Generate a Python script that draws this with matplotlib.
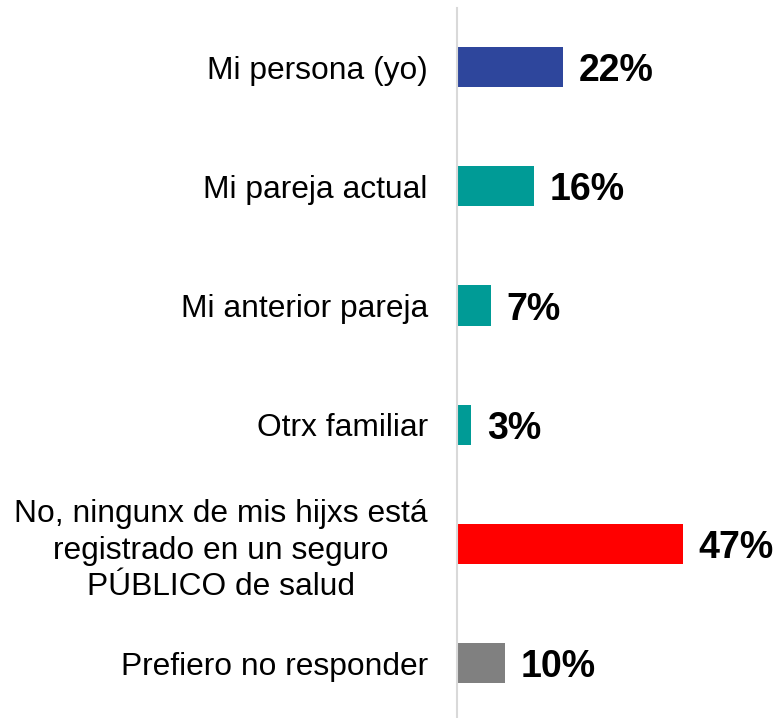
import matplotlib
matplotlib.use("Agg")
import matplotlib.pyplot as plt

plt.rcParams['font.family'] = ['Liberation Sans', 'DejaVu Sans']

categories = [
    "Mi persona (yo)",
    "Mi pareja actual",
    "Mi anterior pareja",
    "Otrx familiar",
    "No, ningunx de mis hijxs está\nregistrado en un seguro\nPÚBLICO de salud",
    "Prefiero no responder",
]
values = [22, 16, 7, 3, 47, 10]
labels = ["22%", "16%", "7%", "3%", "47%", "10%"]
colors = ["#2E469C", "#009B96", "#009B96", "#009B96", "#FF0000", "#808080"]

fig = plt.figure(figsize=(7.79, 7.18), dpi=100)
W, H = 779, 718
ax = fig.add_axes([457 / W, 0, 1 - 457 / W, 710 / H])

y = list(range(len(categories)))
ax.barh(y, values, height=0.336, color=colors)

ax.set_xlim(0, 322 / 4.8)
ax.set_ylim(5.46, -0.495)

for yi, v, lab in zip(y, values, labels):
    ax.text(v + 3.3, yi + 0.035, lab, va='center', ha='left', fontsize=27,
            fontweight='bold', color='black')

ax.set_yticks(y)
ax.set_yticklabels(categories, fontsize=22.9, ha='right', multialignment='center',
                   linespacing=1.28)
ax.tick_params(axis='y', length=0, pad=21)
ax.set_xticks([])

for s in ['top', 'right', 'bottom']:
    ax.spines[s].set_visible(False)
ax.spines['left'].set_color('#D9D9D9')
ax.spines['left'].set_linewidth(1.5)

fig.savefig("out.png", dpi=100)
